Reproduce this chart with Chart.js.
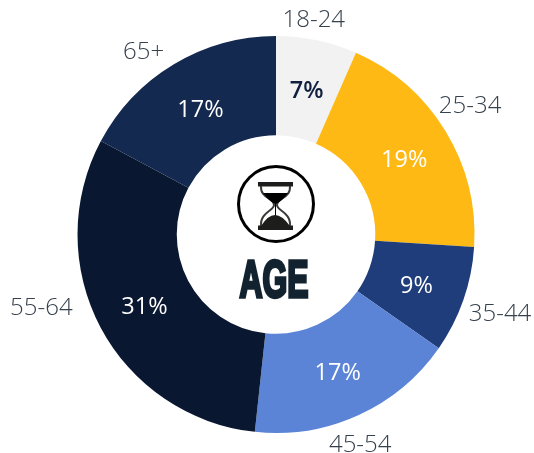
<!DOCTYPE html>
<html lang="en">
<head>
  <meta charset="UTF-8">
  <title>Age</title>
  <script src="https://cdn.jsdelivr.net/npm/chart.js"></script>
  <style>
    html, body { margin: 0; background: #fff; }
    #wrap { width: 534px; height: 453px; }
  </style>
</head>
<body>
  <div id="wrap"><canvas id="ageChart"></canvas></div>

  <script>
    const ageGroups = ['18-24', '25-34', '35-44', '45-54', '55-64', '65+'];
    const shares = [6.6, 19.4, 8.7, 17.0, 31.1, 17.2];
    const shareLabels = ['7%', '19%', '9%', '17%', '31%', '17%'];
    const sliceColors = ['#f2f2f2', '#ffb914', '#1f3d7a', '#5b84d6', '#0a1730', '#14294f'];
    const shareColors = ['#0f1f3d', '#ffffff', '#ffffff', '#ffffff', '#ffffff', '#ffffff'];

    // label placement, relative to the default spot on each slice
    const outerShift = [[-8, 3], [4, -13], [14, 6], [-8, 8], [-38, -30], [-18, 8]];
    const innerShift = [[0, 2], [1, 3], [0, 3], [0, 3], [0, 3], [1, 3]];

    const sliceText = {
      id: 'sliceText',
      afterDatasetsDraw(chart) {
        const { ctx } = chart;
        ctx.save();
        ctx.textAlign = 'center';
        ctx.textBaseline = 'middle';
        chart.getDatasetMeta(0).data.forEach((arc, i) => {
          const mid = (arc.startAngle + arc.endAngle) / 2;
          const inR = (arc.innerRadius + arc.outerRadius) / 2;
          const outR = arc.outerRadius + 24;

          ctx.font = (i === 0 ? '600 ' : '400 ') + '23.5px "Open Sans"';
          ctx.fillStyle = shareColors[i];
          ctx.fillText(shareLabels[i],
            arc.x + Math.cos(mid) * inR + innerShift[i][0],
            arc.y + Math.sin(mid) * inR + innerShift[i][1]);

          ctx.font = '300 24px "Open Sans"';
          ctx.fillStyle = '#36414d';
          ctx.fillText(ageGroups[i],
            arc.x + Math.cos(mid) * outR + outerShift[i][0],
            arc.y + Math.sin(mid) * outR + outerShift[i][1]);
        });
        ctx.restore();
      }
    };

    // hourglass badge and AGE title in the hole
    const centerBadge = {
      id: 'centerBadge',
      afterDraw(chart) {
        const { ctx } = chart;
        const arc = chart.getDatasetMeta(0).data[0];
        const cx = arc.x;
        const cy = arc.y - 30.5;

        ctx.save();
        ctx.translate(cx, cy);
        ctx.strokeStyle = '#000';
        ctx.lineWidth = 3;
        ctx.beginPath();
        ctx.arc(0, 0, 37.5, 0, Math.PI * 2);
        ctx.stroke();

        // frame
        ctx.fillStyle = '#1d1d1b';
        ctx.fillRect(-18, -22, 35, 4.5);
        ctx.fillRect(-18, 21.5, 35, 4.5);

        ctx.strokeStyle = '#3a3a38';
        ctx.lineWidth = 2;
        ctx.beginPath();
        ctx.moveTo(-15, -18);
        ctx.bezierCurveTo(-16, -6, -2, -6, -2, 1);
        ctx.bezierCurveTo(-2, 7, -16, 8, -15, 22);
        ctx.moveTo(14, -18);
        ctx.bezierCurveTo(15, -6, 1, -6, 1, 1);
        ctx.bezierCurveTo(1, 7, 15, 8, 14, 22);
        ctx.stroke();

        // sand
        ctx.fillStyle = '#000';
        ctx.beginPath();
        ctx.moveTo(-13, -11);
        ctx.lineTo(12, -11);
        ctx.quadraticCurveTo(6, -3, 0, 0);
        ctx.lineTo(-1, 0);
        ctx.quadraticCurveTo(-7, -3, -13, -11);
        ctx.fill();
        ctx.fillRect(-1, 0, 1, 14);
        ctx.fillStyle = '#1d1d1b';
        ctx.beginPath();
        ctx.moveTo(-15, 22);
        ctx.quadraticCurveTo(-8, 11, -1, 11);
        ctx.quadraticCurveTo(6, 11, 14, 22);
        ctx.fill();
        ctx.restore();

        // no Impact installed: squeezed and thickened bold instead
        ctx.save();
        ctx.font = 'bold 51px "Liberation Sans"';
        ctx.textAlign = 'center';
        ctx.textBaseline = 'alphabetic';
        const w = ctx.measureText('AGE').width;
        ctx.translate(cx - 2, arc.y + 62.5);
        ctx.scale(69 / w, 1);
        ctx.fillStyle = '#12232f';
        ctx.strokeStyle = '#12232f';
        ctx.lineWidth = 3.4;
        ctx.lineJoin = 'miter';
        ctx.fillText('AGE', 0, 0);
        ctx.strokeText('AGE', 0, 0);
        ctx.restore();
      }
    };

    new Chart(document.getElementById('ageChart'), {
      type: 'doughnut',
      data: {
        labels: ageGroups,
        datasets: [{
          data: shares,
          backgroundColor: sliceColors,
          borderWidth: 0
        }]
      },
      options: {
        responsive: true,
        maintainAspectRatio: false,
        animation: false,
        cutout: '50%',
        layout: { padding: { left: 77.5, right: 59.5, top: 36, bottom: 20 } },
        plugins: {
          legend: { display: false },
          tooltip: { enabled: false }
        }
      },
      plugins: [sliceText, centerBadge]
    });
  </script>
</body>
</html>
